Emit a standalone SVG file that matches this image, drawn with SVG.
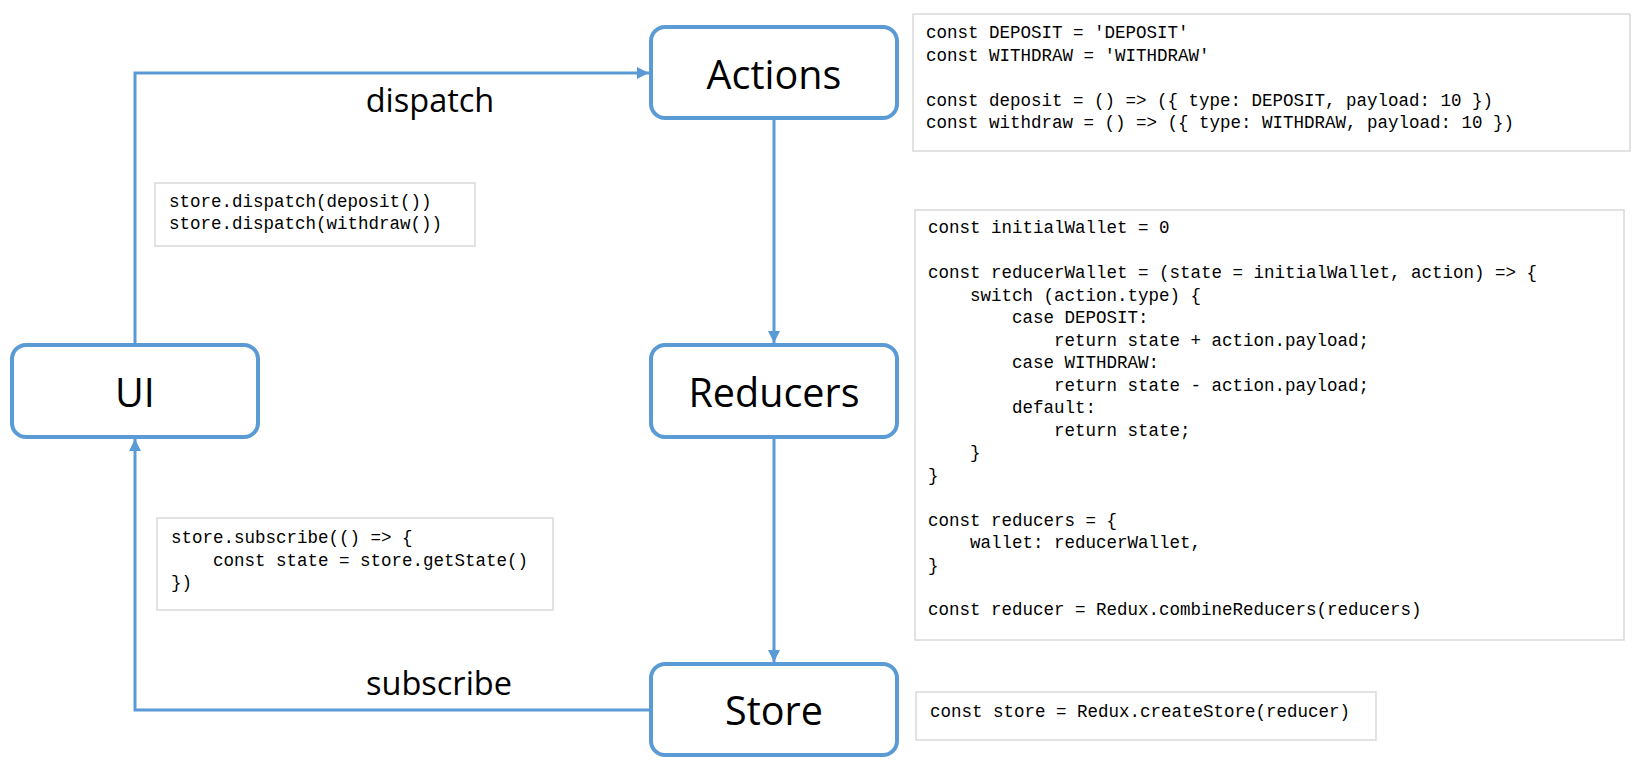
<svg xmlns="http://www.w3.org/2000/svg" width="1643" height="770" viewBox="0 0 1643 770">
<style>
.node{fill:#fff;stroke:#5b9bd5;stroke-width:4}
.lbl{font-family:"Open Sans","Liberation Sans",sans-serif;font-size:39.5px;fill:#000;text-anchor:middle}
.elbl{font-family:"Open Sans","Liberation Sans",sans-serif;font-size:32.5px;fill:#000;text-anchor:middle}
.conn{fill:none;stroke:#5b9bd5;stroke-width:3}
.codebox{fill:#fff;stroke:#d9d9d9;stroke-width:1.5}
.code{font-family:"Liberation Mono","DejaVu Sans Mono",monospace;font-size:17.5px;fill:#000;white-space:pre}
</style>
<defs>
<marker id="arr" viewBox="0 0 10 10" refX="10" refY="5" markerWidth="4" markerHeight="4" orient="auto" markerUnits="strokeWidth">
<path d="M0,0 L10,5 L0,10 Z" fill="#5b9bd5"/>
</marker>
</defs>
<rect width="1643" height="770" fill="#fff"/>
<g id="connectors">
<path class="conn" d="M135,345 L135,73 L649,73" marker-end="url(#arr)"/>
<path class="conn" d="M774,118 L774,343" marker-end="url(#arr)"/>
<path class="conn" d="M774,437 L774,662" marker-end="url(#arr)"/>
<path class="conn" d="M651,710 L135,710 L135,439" marker-end="url(#arr)"/>
<text class="elbl" x="430" y="112">dispatch</text>
<text class="elbl" x="439" y="695">subscribe</text>
</g>
<g id="node-actions">
<rect class="node" x="651" y="27" width="246" height="91" rx="14"/>
<text class="lbl" x="774" y="89">Actions</text>
</g>
<g id="node-reducers">
<rect class="node" x="651" y="345" width="246" height="92" rx="14"/>
<text class="lbl" x="774" y="407">Reducers</text>
</g>
<g id="node-store">
<rect class="node" x="651" y="664" width="246" height="91" rx="14"/>
<text class="lbl" x="774" y="725">Store</text>
</g>
<g id="node-ui">
<rect class="node" x="12" y="345" width="246" height="92" rx="14"/>
<text class="lbl" x="135" y="407">UI</text>
</g>
<g id="code-actions">
<rect class="codebox" x="913" y="14" width="717" height="137"/>
<text class="code" x="926" y="38">const DEPOSIT = 'DEPOSIT'</text>
<text class="code" x="926" y="61">const WITHDRAW = 'WITHDRAW'</text>
<text class="code" x="926" y="106">const deposit = () =&gt; ({ type: DEPOSIT, payload: 10 })</text>
<text class="code" x="926" y="128">const withdraw = () =&gt; ({ type: WITHDRAW, payload: 10 })</text>
</g>
<g id="code-reducers">
<rect class="codebox" x="915" y="210" width="709" height="430"/>
<text class="code" x="928" y="233">const initialWallet = 0</text>
<text class="code" x="928" y="278">const reducerWallet = (state = initialWallet, action) =&gt; {</text>
<text class="code" x="928" y="300.5">    switch (action.type) {</text>
<text class="code" x="928" y="323">        case DEPOSIT:</text>
<text class="code" x="928" y="345.5">            return state + action.payload;</text>
<text class="code" x="928" y="368">        case WITHDRAW:</text>
<text class="code" x="928" y="390.5">            return state - action.payload;</text>
<text class="code" x="928" y="413">        default:</text>
<text class="code" x="928" y="435.5">            return state;</text>
<text class="code" x="928" y="458">    }</text>
<text class="code" x="928" y="480.5">}</text>
<text class="code" x="928" y="525.5">const reducers = {</text>
<text class="code" x="928" y="548">    wallet: reducerWallet,</text>
<text class="code" x="928" y="570.5">}</text>
<text class="code" x="928" y="615">const reducer = Redux.combineReducers(reducers)</text>
</g>
<g id="code-dispatch">
<rect class="codebox" x="155" y="183" width="320" height="63"/>
<text class="code" x="169" y="207">store.dispatch(deposit())</text>
<text class="code" x="169" y="229">store.dispatch(withdraw())</text>
</g>
<g id="code-subscribe">
<rect class="codebox" x="157" y="518" width="396" height="92"/>
<text class="code" x="171" y="543">store.subscribe(() =&gt; {</text>
<text class="code" x="171" y="565.5">    const state = store.getState()</text>
<text class="code" x="171" y="588">})</text>
</g>
<g id="code-store">
<rect class="codebox" x="916" y="692" width="460" height="48"/>
<text class="code" x="930" y="717">const store = Redux.createStore(reducer)</text>
</g>
</svg>
